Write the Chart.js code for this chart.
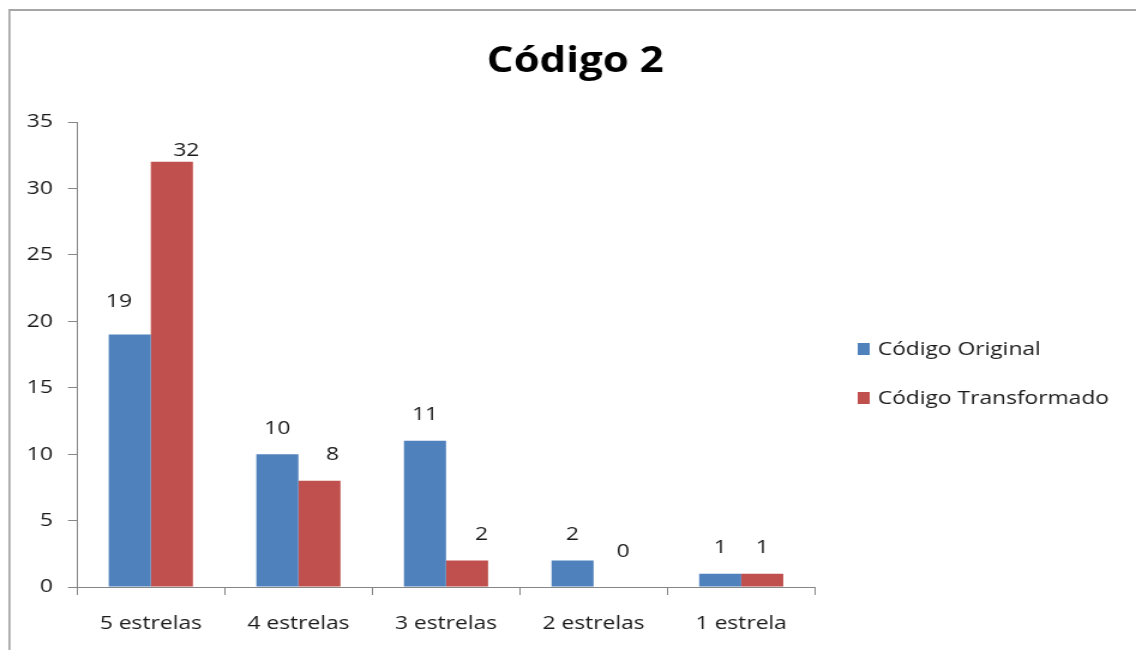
<!DOCTYPE html>
<html lang="pt">
<head>
<meta charset="utf-8">
<title>Código 2</title>
<script src="https://cdn.jsdelivr.net/npm/chart.js@4.4.1/dist/chart.umd.min.js"></script>
<style>
  html, body { margin: 0; padding: 0; background: #ffffff; overflow: hidden; }
  /* the drawing is laid out at a narrower width and widened to 1136px */
  #wrap { position: absolute; left: 0; top: 0; width: 947px; height: 650px;
          transform: scaleX(1.19958); transform-origin: 0 0; }
</style>
</head>
<body>
<div id="wrap"><canvas id="chart"></canvas></div>
<script>
// ---- data ----
const chartTitle = 'Código 2';
const categories = ['5 estrelas', '4 estrelas', '3 estrelas', '2 estrelas', '1 estrela'];
const seriesNames = ['Código Original', 'Código Transformado'];
const codigoOriginal = [19, 10, 11, 2, 1];
const codigoTransformado = [32, 8, 2, 0, 1];
const yMin = 0, yMax = 35, yStep = 5;

// ---- look ----
const colors = ['#4F81BD', '#C0504D'];
const FONT = '"Open Sans", "DejaVu Sans", sans-serif';
const TEXT = '#1a1a1a';
const AXIS = '#868686';

// value-label nudges [dx, dy] per series/category, added to the default spot
const labelNudge = [
  [[-9, -7], [0, 0], [0, 0], [0, 0], [0, 0]],
  [[12, 15], [11, 0], [12, 0], [7, -9], [0, 0]]
];

const W = 947;
const plotLeft = 64.2, plotRight = 679.4, plotTop = 122, plotBottom = 587;

const decorations = {
  id: 'decorations',
  beforeDraw(chart) {
    const ctx = chart.ctx;
    ctx.save();
    ctx.fillStyle = '#ffffff';
    ctx.fillRect(0, 0, chart.width, chart.height);
    // outer frame (top and left edges)
    ctx.fillStyle = '#a6a6a6';
    ctx.fillRect(7, 9, chart.width - 7, 2);
    ctx.fillRect(7, 9, 1.7, chart.height - 9);
    ctx.restore();
  },
  afterDraw(chart) {
    const ctx = chart.ctx;
    ctx.save();
    // title
    ctx.fillStyle = '#000000';
    ctx.font = 'bold 35px ' + FONT;
    ctx.textAlign = 'center';
    ctx.textBaseline = 'middle';
    ctx.fillText(chartTitle, 479.5, 62);
    // legend
    ctx.font = '19px ' + FONT;
    ctx.textAlign = 'left';
    chart.data.datasets.forEach((ds, i) => {
      const cy = 349 + i * 49;
      ctx.fillStyle = ds.backgroundColor;
      ctx.fillRect(715, cy - 6, 10, 12);
      ctx.fillStyle = TEXT;
      ctx.fillText(ds.label, 731.7, cy + 1);
    });
    ctx.restore();
  },
  afterDatasetsDraw(chart) {
    const ctx = chart.ctx;
    ctx.save();
    ctx.font = '19px ' + FONT;
    ctx.fillStyle = TEXT;
    ctx.textAlign = 'center';
    ctx.textBaseline = 'middle';
    chart.data.datasets.forEach((ds, di) => {
      const meta = chart.getDatasetMeta(di);
      meta.data.forEach((bar, i) => {
        const n = labelNudge[di][i];
        ctx.fillText(String(ds.data[i]), bar.x + n[0], bar.y - 26 + n[1]);
      });
    });
    ctx.restore();
  }
};

new Chart(document.getElementById('chart'), {
  type: 'bar',
  data: {
    labels: categories,
    datasets: [
      { label: seriesNames[0], data: codigoOriginal, backgroundColor: colors[0] },
      { label: seriesNames[1], data: codigoTransformado, backgroundColor: colors[1] }
    ]
  },
  options: {
    responsive: true,
    maintainAspectRatio: false,
    animation: false,
    events: [],
    layout: { padding: { left: 0, top: plotTop, right: W - plotRight, bottom: 0 } },
    datasets: { bar: { categoryPercentage: 0.57, barPercentage: 1.0 } },
    plugins: { legend: { display: false }, title: { display: false }, tooltip: { enabled: false } },
    scales: {
      x: {
        afterFit(scale) { scale.height = 650 - plotBottom; },
        grid: { display: true, offset: true, drawOnChartArea: false, drawTicks: true,
                tickLength: 8, color: AXIS, lineWidth: 1 },
        border: { display: true, color: AXIS, width: 1 },
        ticks: { color: TEXT, font: { family: FONT, size: 19 }, padding: 17, maxRotation: 0 }
      },
      y: {
        min: yMin, max: yMax,
        afterFit(scale) { scale.width = plotLeft; },
        grid: { display: true, drawOnChartArea: false, drawTicks: true,
                tickLength: 7.5, color: AXIS, lineWidth: 1 },
        border: { display: true, color: AXIS, width: 1 },
        ticks: { stepSize: yStep, color: TEXT, font: { family: FONT, size: 19 }, padding: 12.7 }
      }
    }
  },
  plugins: [decorations]
});
</script>
</body>
</html>
